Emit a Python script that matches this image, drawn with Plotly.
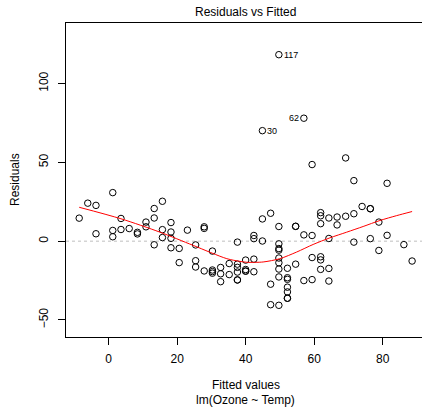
import plotly.graph_objects as go

# Fitted values and residuals of lm(Ozone ~ Temp)
fitted = [15.7, 27.9, 32.7, 3.6, 13.3, 10.9, -3.7, 1.2, 32.7, 20.6,
          13.3, 18.2, -6.1, 8.4, 13.3, -8.6, 18.2, 3.6, -3.7, 30.3,
          1.2, 1.2, 15.7, 49.7, 44.9, 37.6, 52.2, 71.6, 64.3, 52.2,
          40.0, 27.9, 10.9, 30.3, 37.6, 57.0, 59.4, 49.7, 54.6, 54.6,
          66.7, 76.4, 76.4, 69.2, 30.3, 49.7, 47.3, 49.7, 52.2, 57.0,
          64.3, 59.4, 32.7, 61.9, 59.4, 52.2, 61.9, 66.7, 61.9, 54.6,
          49.7, 49.7, 49.7, 52.2, 61.9, 59.4, 64.3, 69.2, 71.6, 71.6,
          61.9, 52.2, 47.3, 40.0, 44.9, 37.6, 42.4, 42.4, 40.0, 27.9,
          44.9, 49.7, 61.9, 88.6, 81.3, 86.2, 81.3, 74.0, 76.4, 78.9,
          78.9, 64.3, 57.0, 47.3, 42.4, 35.2, 30.3, 49.7, 37.6, 40.0,
          25.4, 25.4, 42.4, 15.7, 37.6, 18.2, 52.2, 8.4, 25.4, 49.7,
          20.6, 6.0, 23.0, 35.2, 37.6, 18.2]
residuals = [25.3, 8.1, -20.7, 14.4, 14.7, 12.1, 22.7, 6.8, -25.7, -4.6,
             -2.3, -4.2, 24.1, 5.6, 20.7, 14.6, 11.8, 7.4, 4.7, -19.3,
             2.8, 30.8, 7.3, -4.7, 70.1, -0.6, -23.2, -0.6, -25.3, -29.2,
             -19.0, 9.1, 9.1, -18.3, -24.6, 78.0, -10.4, -17.7, 9.4, -14.6,
             10.3, 20.6, 20.6, 15.8, -20.3, -22.7, -40.3, -1.7, -17.2, 4.0,
             14.7, 3.6, -16.7, 18.1, 48.6, -32.2, -9.9, 15.3, -11.9, 9.4,
             9.3, -10.7, -40.7, -36.2, 16.1, -24.4, 1.7, 52.8, 17.4, 38.4,
             -17.9, -24.2, 17.7, -18.0, 14.1, -14.6, -11.4, 1.6, -19.0, -18.9,
             0.1, 118.3, 11.1, -12.6, 36.7, -2.2, 3.7, 22.0, 1.6, -5.9,
             12.1, -17.3, -25.0, -27.3, -19.4, -14.2, -6.3, -5.7, -16.6, -12.0,
             -16.4, -12.4, 3.6, 2.3, -24.6, 5.8, -36.2, 4.6, -2.4, -13.7,
             -13.6, 8.0, 7.0, -21.2, -19.6, 1.8]

# Smoother
smooth_x = [-8.6, 3.6, 15.0, 24.7, 34.5, 38.3, 40.3, 45.1, 50.0, 54.9, 59.7, 64.6, 69.5, 74.3, 79.2, 84.1, 88.6]
smooth_y = [21.5, 14.2, 5.7, -2.7, -11.1, -12.8, -13.4, -13.2, -11.1, -6.9, -2.1, 2.1, 5.7, 9.3, 13.1, 16.2, 18.8]

# Labelled observations
id_labels = ["117", "62", "30"]
id_x = [49.7, 57.0, 44.9]
id_y = [118.3, 78.0, 70.1]
id_side = ["right", "left", "right"]

x_ticks = [0, 20, 40, 60, 80]
y_ticks = [-50, 0, 50, 100]

FONT = "Liberation Sans, Arial, Helvetica, sans-serif"

fig = go.Figure()
fig.add_trace(go.Scatter(
    x=fitted, y=residuals, mode="markers",
    marker=dict(symbol="circle-open", size=6.5, color="black", line=dict(width=1, color="black")),
    hoverinfo="x+y", showlegend=False))
fig.add_trace(go.Scatter(
    x=smooth_x, y=smooth_y, mode="lines",
    line=dict(color="red", width=1, shape="spline", smoothing=0.8), showlegend=False, hoverinfo="skip"))

fig.add_shape(type="line", xref="paper", yref="y", x0=0, x1=1, y0=0, y1=0,
              line=dict(color="#bebebe", width=1, dash="dot"), layer="below")

for lab, xx, yy, side in zip(id_labels, id_x, id_y, id_side):
    fig.add_annotation(x=xx, y=yy, text=lab, showarrow=False,
                       xanchor="left" if side == "right" else "right",
                       xshift=3 if side == "right" else -3,
                       font=dict(size=9, color="black", family=FONT))

W, H = 422, 411
ml, mr, mt, mb = 66, 0, 23, 74
pw, ph = W - ml - mr, H - mt - mb

def px_to_paper_x(px):
    return (px - ml) / pw

def px_to_paper_y(py):
    return (H - mb - py) / ph

fig.add_annotation(xref="paper", yref="paper", x=px_to_paper_x(245.5), y=px_to_paper_y(11.5),
                   text="Residuals vs Fitted", showarrow=False, xanchor="center", yanchor="middle",
                   font=dict(size=12, color="black", family=FONT))
fig.add_annotation(xref="paper", yref="paper", x=px_to_paper_x(245.5), y=px_to_paper_y(385),
                   text="Fitted values", showarrow=False, xanchor="center", yanchor="middle",
                   font=dict(size=12, color="black", family=FONT))
fig.add_annotation(xref="paper", yref="paper", x=px_to_paper_x(245.5), y=px_to_paper_y(400),
                   text="lm(Ozone ~ Temp)", showarrow=False, xanchor="center", yanchor="middle",
                   font=dict(size=12, color="black", family=FONT))
fig.add_annotation(xref="paper", yref="paper", x=px_to_paper_x(15), y=px_to_paper_y(180),
                   text="Residuals", showarrow=False, xanchor="center", yanchor="middle",
                   textangle=-90, font=dict(size=12, color="black", family=FONT))

fig.update_layout(
    width=W, height=H,
    margin=dict(l=ml, r=mr, t=mt, b=mb, pad=0),
    plot_bgcolor="white", paper_bgcolor="white",
    font=dict(family=FONT, size=12, color="black"),
    xaxis=dict(range=[-12.45, -12.45 + pw / 3.425], tickvals=x_ticks, ticktext=[str(v) for v in x_ticks],
               showgrid=False, zeroline=False, showline=True, linecolor="black", linewidth=1,
               mirror=True, ticks="outside", ticklen=7, tickcolor="black", tickwidth=1,
               ticklabelstandoff=4, tickfont=dict(size=12, family=FONT)),
    yaxis=dict(range=[-60.8, 138.4], tickvals=y_ticks, ticktext=[str(v).replace("-", "\u2212") for v in y_ticks],
               showgrid=False, zeroline=False, showline=True, linecolor="black", linewidth=1,
               mirror=False, ticks="outside", ticklen=7, tickcolor="black", tickwidth=1,
               tickangle=-90, ticklabelstandoff=5, tickfont=dict(size=12, family=FONT)),
    hovermode="closest",
)

fig.write_html("out.html")
